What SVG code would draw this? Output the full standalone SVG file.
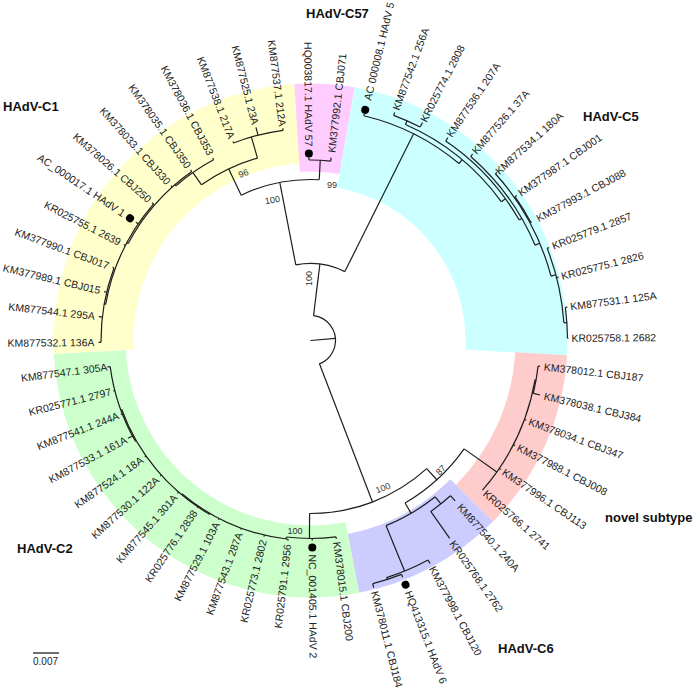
<svg xmlns="http://www.w3.org/2000/svg" width="700" height="698" viewBox="0 0 700 698">
<style>
.br line,.br circle{stroke:#1e1e1e;stroke-width:1.2;fill:none;}
.lab text{font-family:"Liberation Sans",Arial,sans-serif;font-size:10.5px;fill:#222;}
.lab .l{text-anchor:end;}
.dot{fill:#000;stroke:none;}
.sup{font-family:"Liberation Sans",Arial,sans-serif;font-size:9px;fill:#333;text-anchor:middle;}
.clade{font-family:"Liberation Sans",Arial,sans-serif;font-size:13px;font-weight:bold;fill:#111;}
</style>
<rect width="700" height="698" fill="#fff"/>
<g id="bands" transform="translate(310.5,340.5)" fill="none">
<circle id="band-C1" r="217" stroke="#FFFFCC" stroke-width="80" stroke-dasharray="338.58 3000" transform="rotate(177)"/>
<circle id="band-C57" r="213" stroke="#FFCCFF" stroke-width="88" stroke-dasharray="50.19 3000" transform="rotate(-93.6)"/>
<circle id="band-C5" r="206" stroke="#CCFFFF" stroke-width="102" stroke-dasharray="299.85 3000" transform="rotate(-80.1)"/>
<circle id="band-novel" r="231" stroke="#FFCCCC" stroke-width="52" stroke-dasharray="167.32 3000" transform="rotate(3.3)"/>
<circle id="band-C6" r="227" stroke="#CCCCFF" stroke-width="60" stroke-dasharray="135.89 3000" transform="rotate(44.8)"/>
<circle id="band-C2" r="221" stroke="#CCFFCC" stroke-width="72" stroke-dasharray="377.61 3000" transform="rotate(79.1)"/>
</g>
<g id="connectors" class="br" transform="translate(310.5,340.5)">
<line x2="25" transform="rotate(-5)"/>
<circle r="25" stroke-dasharray="66.32 3000" transform="rotate(-83)"/>
<line x1="25" x2="77" transform="rotate(-83)"/>
<circle r="77" stroke-dasharray="50.40 3000" transform="rotate(-101)"/>
<line x1="77" x2="161" transform="rotate(-101)"/>
<circle r="161" stroke-dasharray="80.36 3000" transform="rotate(-115.5)"/>
<line x1="161" x2="180.5" transform="rotate(-86.9)"/>
<circle r="180.5" stroke-dasharray="21.80 3000" transform="rotate(-90.5)"/>
<line x1="180.5" x2="183" transform="rotate(-90.5)"/>
<line x1="180.5" x2="184" transform="rotate(-83.58)"/>
<line x1="161" x2="190" transform="rotate(-115.5)"/>
<circle r="190" stroke-dasharray="62.34 3000" transform="rotate(-125)"/>
<line x1="190" x2="212" transform="rotate(-106.2)"/>
<circle r="212" stroke-dasharray="51.25 3000" transform="rotate(-111.27)"/>
<line x1="212" x2="213.5" transform="rotate(-111.27)"/>
<line x1="212" x2="220" transform="rotate(-104.35)"/>
<line x1="212" x2="214" transform="rotate(-97.42)"/>
<line x1="190" x2="205" transform="rotate(-125)"/>
<circle r="205" stroke-dasharray="45.83 3000" transform="rotate(-131)"/>
<line x1="205" x2="206.5" transform="rotate(-131)"/>
<circle r="206.5" stroke-dasharray="96.88 3000" transform="rotate(-152)"/>
<line x1="206.5" x2="208" transform="rotate(-152)"/>
<circle r="208" stroke-dasharray="112.68 3000" transform="rotate(-170)"/>
<line x1="208" x2="209.5" transform="rotate(-170)"/>
<circle r="209.5" stroke-dasharray="75.94 3000" transform="rotate(-180.5)"/>
<line x1="205" x2="207" transform="rotate(-118.19)"/>
<line x1="206.5" x2="208.5" transform="rotate(-125.12)"/>
<line x1="206.5" x2="208.5" transform="rotate(-132.04)"/>
<line x1="208" x2="210" transform="rotate(-138.96)"/>
<line x1="208" x2="211" transform="rotate(-145.88)"/>
<line x1="208" x2="210" transform="rotate(-152.81)"/>
<line x1="209.5" x2="211" transform="rotate(-159.73)"/>
<line x1="209.5" x2="212" transform="rotate(-166.65)"/>
<line x1="209.5" x2="213" transform="rotate(-173.58)"/>
<line x1="209.5" x2="212" transform="rotate(-180.5)"/>
<line x1="77" x2="231" transform="rotate(-63.5)"/>
<circle r="231" stroke-dasharray="107.44 3000" transform="rotate(-76.65)"/>
<line x1="231" x2="233" transform="rotate(-76.65)"/>
<line x1="231" x2="236" transform="rotate(-50)"/>
<circle r="236" stroke-dasharray="124.68 3000" transform="rotate(-66.27)"/>
<line x1="236" x2="240" transform="rotate(-66.27)"/>
<circle r="240" stroke-dasharray="28.99 3000" transform="rotate(-69.73)"/>
<line x1="240" x2="243" transform="rotate(-69.73)"/>
<line x1="240" x2="245" transform="rotate(-62.81)"/>
<line x1="236" x2="241" transform="rotate(-36)"/>
<circle r="241" stroke-dasharray="108.86 3000" transform="rotate(-55.88)"/>
<line x1="241" x2="245" transform="rotate(-55.88)"/>
<line x1="241" x2="244" transform="rotate(-30)"/>
<circle r="244" stroke-dasharray="110.55 3000" transform="rotate(-48.96)"/>
<line x1="244" x2="247" transform="rotate(-48.96)"/>
<line x1="244" x2="249" transform="rotate(-23)"/>
<circle r="249" stroke-dasharray="117.51 3000" transform="rotate(-42.04)"/>
<line x1="249" x2="251" transform="rotate(-42.04)"/>
<line x1="249" x2="250" transform="rotate(-31.65)"/>
<circle r="250" stroke-dasharray="30.24 3000" transform="rotate(-35.12)"/>
<line x1="250" x2="252" transform="rotate(-35.12)"/>
<line x1="250" x2="251" transform="rotate(-28.19)"/>
<line x1="249" x2="254" transform="rotate(-15)"/>
<circle r="254" stroke-dasharray="76.56 3000" transform="rotate(-21.27)"/>
<line x1="254" x2="256" transform="rotate(-21.27)"/>
<line x1="254" x2="256" transform="rotate(-14.35)"/>
<line x1="254" x2="257" transform="rotate(-4)"/>
<circle r="257" stroke-dasharray="31.04 3000" transform="rotate(-7.42)"/>
<line x1="257" x2="259" transform="rotate(-7.42)"/>
<line x1="257" x2="258" transform="rotate(-0.5)"/>
<line x1="25" x2="173" transform="rotate(69)"/>
<circle r="173" stroke-dasharray="128.32 3000" transform="rotate(47.8)"/>
<line x1="173" x2="198" transform="rotate(90.3)"/>
<circle r="198" stroke-dasharray="49.83 3000" transform="rotate(82.58)"/>
<line x1="198" x2="200" transform="rotate(82.58)"/>
<line x1="198" x2="200" transform="rotate(89.5)"/>
<line x1="198" x2="200" transform="rotate(97)"/>
<circle r="200" stroke-dasharray="117.21 3000" transform="rotate(96.42)"/>
<line x1="200" x2="201" transform="rotate(125)"/>
<circle r="201" stroke-dasharray="140.32 3000" transform="rotate(120)"/>
<line x1="201" x2="202" transform="rotate(155)"/>
<circle r="202" stroke-dasharray="79.61 3000" transform="rotate(150)"/>
<line x1="200" x2="201.5" transform="rotate(96.42)"/>
<line x1="200" x2="201.5" transform="rotate(103.35)"/>
<line x1="200" x2="201.5" transform="rotate(110.27)"/>
<line x1="200" x2="201.5" transform="rotate(117.19)"/>
<line x1="200" x2="202" transform="rotate(124.12)"/>
<line x1="201" x2="202.5" transform="rotate(131.04)"/>
<line x1="201" x2="202.5" transform="rotate(137.96)"/>
<line x1="201" x2="202.5" transform="rotate(144.88)"/>
<line x1="201" x2="207" transform="rotate(151.81)"/>
<line x1="202" x2="203.5" transform="rotate(158.73)"/>
<line x1="202" x2="203.5" transform="rotate(165.65)"/>
<line x1="202" x2="205" transform="rotate(172.58)"/>
<line x1="173" x2="188" transform="rotate(47.8)"/>
<circle r="188" stroke-dasharray="80.72 3000" transform="rotate(35.2)"/>
<line x1="188" x2="228" transform="rotate(35.2)"/>
<circle r="228" stroke-dasharray="123.92 3000" transform="rotate(9.9)"/>
<line x1="228" x2="229" transform="rotate(9.9)"/>
<circle r="229" stroke-dasharray="27.70 3000" transform="rotate(6.42)"/>
<line x1="229" x2="231" transform="rotate(6.42)"/>
<line x1="229" x2="236" transform="rotate(13.35)"/>
<line x1="228" x2="230" transform="rotate(20.27)"/>
<line x1="228" x2="230" transform="rotate(27.19)"/>
<line x1="228" x2="230" transform="rotate(34.12)"/>
<line x1="188" x2="200" transform="rotate(59.8)"/>
<circle r="200" stroke-dasharray="57.25 3000" transform="rotate(51.4)"/>
<line x1="200" x2="209" transform="rotate(51.4)"/>
<circle r="209" stroke-dasharray="25.24 3000" transform="rotate(47.96)"/>
<line x1="209" x2="216" transform="rotate(47.96)"/>
<line x1="209" x2="242" transform="rotate(54.88)"/>
<line x1="200" x2="249" transform="rotate(67.8)"/>
<circle r="249" stroke-dasharray="45.15 3000" transform="rotate(61.81)"/>
<line x1="249" x2="253" transform="rotate(61.81)"/>
<line x1="249" x2="251" transform="rotate(72.2)"/>
<circle r="251" stroke-dasharray="30.31 3000" transform="rotate(68.73)"/>
<line x1="251" x2="254" transform="rotate(68.73)"/>
<line x1="251" x2="255" transform="rotate(75.65)"/>
</g>
<g id="leaves" class="lab" transform="translate(310.5,340.5)">
<g id="n-KR025758"><text transform="rotate(-0.5) translate(261,0)" dy="0.35em">KR025758.1 2682</text></g>
<g id="n-KM877531"><text transform="rotate(-7.42) translate(262,0)" dy="0.35em">KM877531.1 125A</text></g>
<g id="n-KR025775"><text transform="rotate(-14.35) translate(259,0)" dy="0.35em">KR025775.1 2826</text></g>
<g id="n-KR025779"><text transform="rotate(-21.27) translate(259.5,0)" dy="0.35em">KR025779.1 2857</text></g>
<g id="n-KM377993"><text transform="rotate(-28.19) translate(257,0)" dy="0.35em">KM377993.1 CBJ088</text></g>
<g id="n-KM377987"><text transform="rotate(-35.12) translate(255,0)" dy="0.35em">KM377987.1 CBJ001</text></g>
<g id="n-KM877534"><text transform="rotate(-42.04) translate(251,0)" dy="0.35em">KM877534.1 180A</text></g>
<g id="n-KM877526"><text transform="rotate(-48.96) translate(249,0)" dy="0.35em">KM877526.1 37A</text></g>
<g id="n-KM877536"><text transform="rotate(-55.88) translate(247,0)" dy="0.35em">KM877536.1 207A</text></g>
<g id="n-KR025774"><text transform="rotate(-62.81) translate(246.5,0)" dy="0.35em">KR025774.1 2808</text></g>
<g id="n-KM877542"><text transform="rotate(-69.73) translate(246,0)" dy="0.35em">KM877542.1 256A</text></g>
<g id="n-AC000008"><circle class="dot" cx="237" r="4" transform="rotate(-76.65)"/><text transform="rotate(-76.65) translate(247,0)" dy="0.35em">AC 000008.1 HAdV 5</text></g>
<g id="n-KM377992"><text transform="rotate(-83.58) translate(189,0)" dy="0.35em">KM377992.1 CBJ071</text></g>
<g id="n-HQ003817"><circle class="dot" cx="187" r="4" transform="rotate(-90.5)"/><text class="l" transform="rotate(89.5) translate(-194,0)" dy="0.35em">HQ003817.1 HAdV 57</text></g>
<g id="n-KM877537"><text class="l" transform="rotate(82.58) translate(-216,0)" dy="0.35em">KM877537.1 212A</text></g>
<g id="n-KM877525"><text class="l" transform="rotate(75.65) translate(-223,0)" dy="0.35em">KM877525.1 23A</text></g>
<g id="n-KM877538"><text class="l" transform="rotate(68.73) translate(-217,0)" dy="0.35em">KM877538.1 217A</text></g>
<g id="n-KM378036"><text class="l" transform="rotate(61.81) translate(-211,0)" dy="0.35em">KM378036.1 CBJ353</text></g>
<g id="n-KM378035"><text class="l" transform="rotate(54.88) translate(-212,0)" dy="0.35em">KM378035.1 CBJ350</text></g>
<g id="n-KM378033"><text class="l" transform="rotate(47.96) translate(-212,0)" dy="0.35em">KM378033.1 CBJ330</text></g>
<g id="n-KM378026"><text class="l" transform="rotate(41.04) translate(-213,0)" dy="0.35em">KM378026.1 CBJ250</text></g>
<g id="n-AC000017"><circle class="dot" cx="218" r="4" transform="rotate(-145.88)"/><text class="l" transform="rotate(34.12) translate(-225,0)" dy="0.35em">AC_000017.1 HAdV 1</text></g>
<g id="n-KR025755"><text class="l" transform="rotate(27.19) translate(-214,0)" dy="0.35em">KR025755.1 2639</text></g>
<g id="n-KM377990"><text class="l" transform="rotate(20.27) translate(-215,0)" dy="0.35em">KM377990.1 CBJ017</text></g>
<g id="n-KM377989"><text class="l" transform="rotate(13.35) translate(-216,0)" dy="0.35em">KM377989.1 CBJ015</text></g>
<g id="n-KM877544"><text class="l" transform="rotate(6.42) translate(-217,0)" dy="0.35em">KM877544.1 295A</text></g>
<g id="n-KM877532"><text class="l" transform="rotate(-0.5) translate(-216,0)" dy="0.35em">KM877532.1 136A</text></g>
<g id="n-KM877547"><text class="l" transform="rotate(-7.42) translate(-205,0)" dy="0.35em">KM877547.1 305A</text></g>
<g id="n-KR025771"><text class="l" transform="rotate(-14.35) translate(-206,0)" dy="0.35em">KR025771.1 2797</text></g>
<g id="n-KM877541"><text class="l" transform="rotate(-21.27) translate(-206,0)" dy="0.35em">KM877541.1 244A</text></g>
<g id="n-KM877533"><text class="l" transform="rotate(-28.19) translate(-209,0)" dy="0.35em">KM877533.1 161A</text></g>
<g id="n-KM877524"><text class="l" transform="rotate(-35.12) translate(-206,0)" dy="0.35em">KM877524.1 18A</text></g>
<g id="n-KM877530"><text class="l" transform="rotate(-42.04) translate(-206,0)" dy="0.35em">KM877530.1 122A</text></g>
<g id="n-KM877545"><text class="l" transform="rotate(-48.96) translate(-206,0)" dy="0.35em">KM877545.1 301A</text></g>
<g id="n-KR025776"><text class="l" transform="rotate(-55.88) translate(-206,0)" dy="0.35em">KR025776.1 2838</text></g>
<g id="n-KM877529"><text class="l" transform="rotate(-62.81) translate(-205,0)" dy="0.35em">KM877529.1 103A</text></g>
<g id="n-KM877543"><text class="l" transform="rotate(-69.73) translate(-205,0)" dy="0.35em">KM877543.1 287A</text></g>
<g id="n-KR025773"><text class="l" transform="rotate(-76.65) translate(-205,0)" dy="0.35em">KR025773.1 2802</text></g>
<g id="n-KR025791"><text class="l" transform="rotate(-83.58) translate(-205,0)" dy="0.35em">KR025791.1 2956</text></g>
<g id="n-NC001405"><circle class="dot" cx="207" r="4" transform="rotate(89.5)"/><text transform="rotate(89.5) translate(214,0)" dy="0.35em">NC_001405.1 HAdV 2</text></g>
<g id="n-KM378015"><text transform="rotate(82.58) translate(203,0)" dy="0.35em">KM378015.1 CBJ200</text></g>
<g id="n-KM378011"><text transform="rotate(75.65) translate(259,0)" dy="0.35em">KM378011.1 CBJ184</text></g>
<g id="n-HQ413315"><circle class="dot" cx="262" r="4" transform="rotate(68.73)"/><text transform="rotate(68.73) translate(269,0)" dy="0.35em">HQ413315.1 HAdV 6</text></g>
<g id="n-KM377998"><text transform="rotate(61.81) translate(257,0)" dy="0.35em">KM377998.1 CBJ120</text></g>
<g id="n-KR025768"><text transform="rotate(54.88) translate(246,0)" dy="0.35em">KR025768.1 2762</text></g>
<g id="n-KM877540"><text transform="rotate(47.96) translate(222,0)" dy="0.35em">KM877540.1 240A</text></g>
<g id="n-KR025766"><text transform="rotate(41.04) translate(231,0)" dy="0.35em">KR025766.1 2741</text></g>
<g id="n-KM377996"><text transform="rotate(34.12) translate(233,0)" dy="0.35em">KM377996.1 CBJ113</text></g>
<g id="n-KM377988"><text transform="rotate(27.19) translate(233,0)" dy="0.35em">KM377988.1 CBJ008</text></g>
<g id="n-KM378034"><text transform="rotate(20.27) translate(233,0)" dy="0.35em">KM378034.1 CBJ347</text></g>
<g id="n-KM378038"><text transform="rotate(13.35) translate(240,0)" dy="0.35em">KM378038.1 CBJ384</text></g>
<g id="n-KM378012"><text transform="rotate(6.42) translate(235,0)" dy="0.35em">KM378012.1 CBJ187</text></g>
</g>
<g id="support">
<text class="sup" x="309" y="281.5" transform="rotate(-90 309 278.5)">100</text>
<text class="sup" x="272.5" y="203" transform="rotate(-10 272.5 200)">100</text>
<text class="sup" x="243.5" y="176.5" transform="rotate(-20 243.5 173.5)">96</text>
<text class="sup" x="332" y="188">99</text>
<text class="sup" x="295" y="534">100</text>
<text class="sup" x="383" y="491" transform="rotate(-21 383 488)">100</text>
<text class="sup" x="441" y="473" transform="rotate(-45 441 470)">87</text>
</g>
<g id="clades">
<text class="clade" x="3" y="111">HAdV-C1</text>
<text class="clade" x="306" y="18">HAdV-C57</text>
<text class="clade" x="583" y="121">HAdV-C5</text>
<text class="clade" x="605" y="522">novel subtype</text>
<text class="clade" x="498" y="653">HAdV-C6</text>
<text class="clade" x="17" y="553">HAdV-C2</text>
</g>
<g id="scale">
<line x1="33" y1="653" x2="59" y2="653" stroke="#222" stroke-width="1.3"/>
<text x="33" y="665" font-family="Liberation Sans, Arial, sans-serif" font-size="10" fill="#222">0.007</text>
</g>
</svg>
